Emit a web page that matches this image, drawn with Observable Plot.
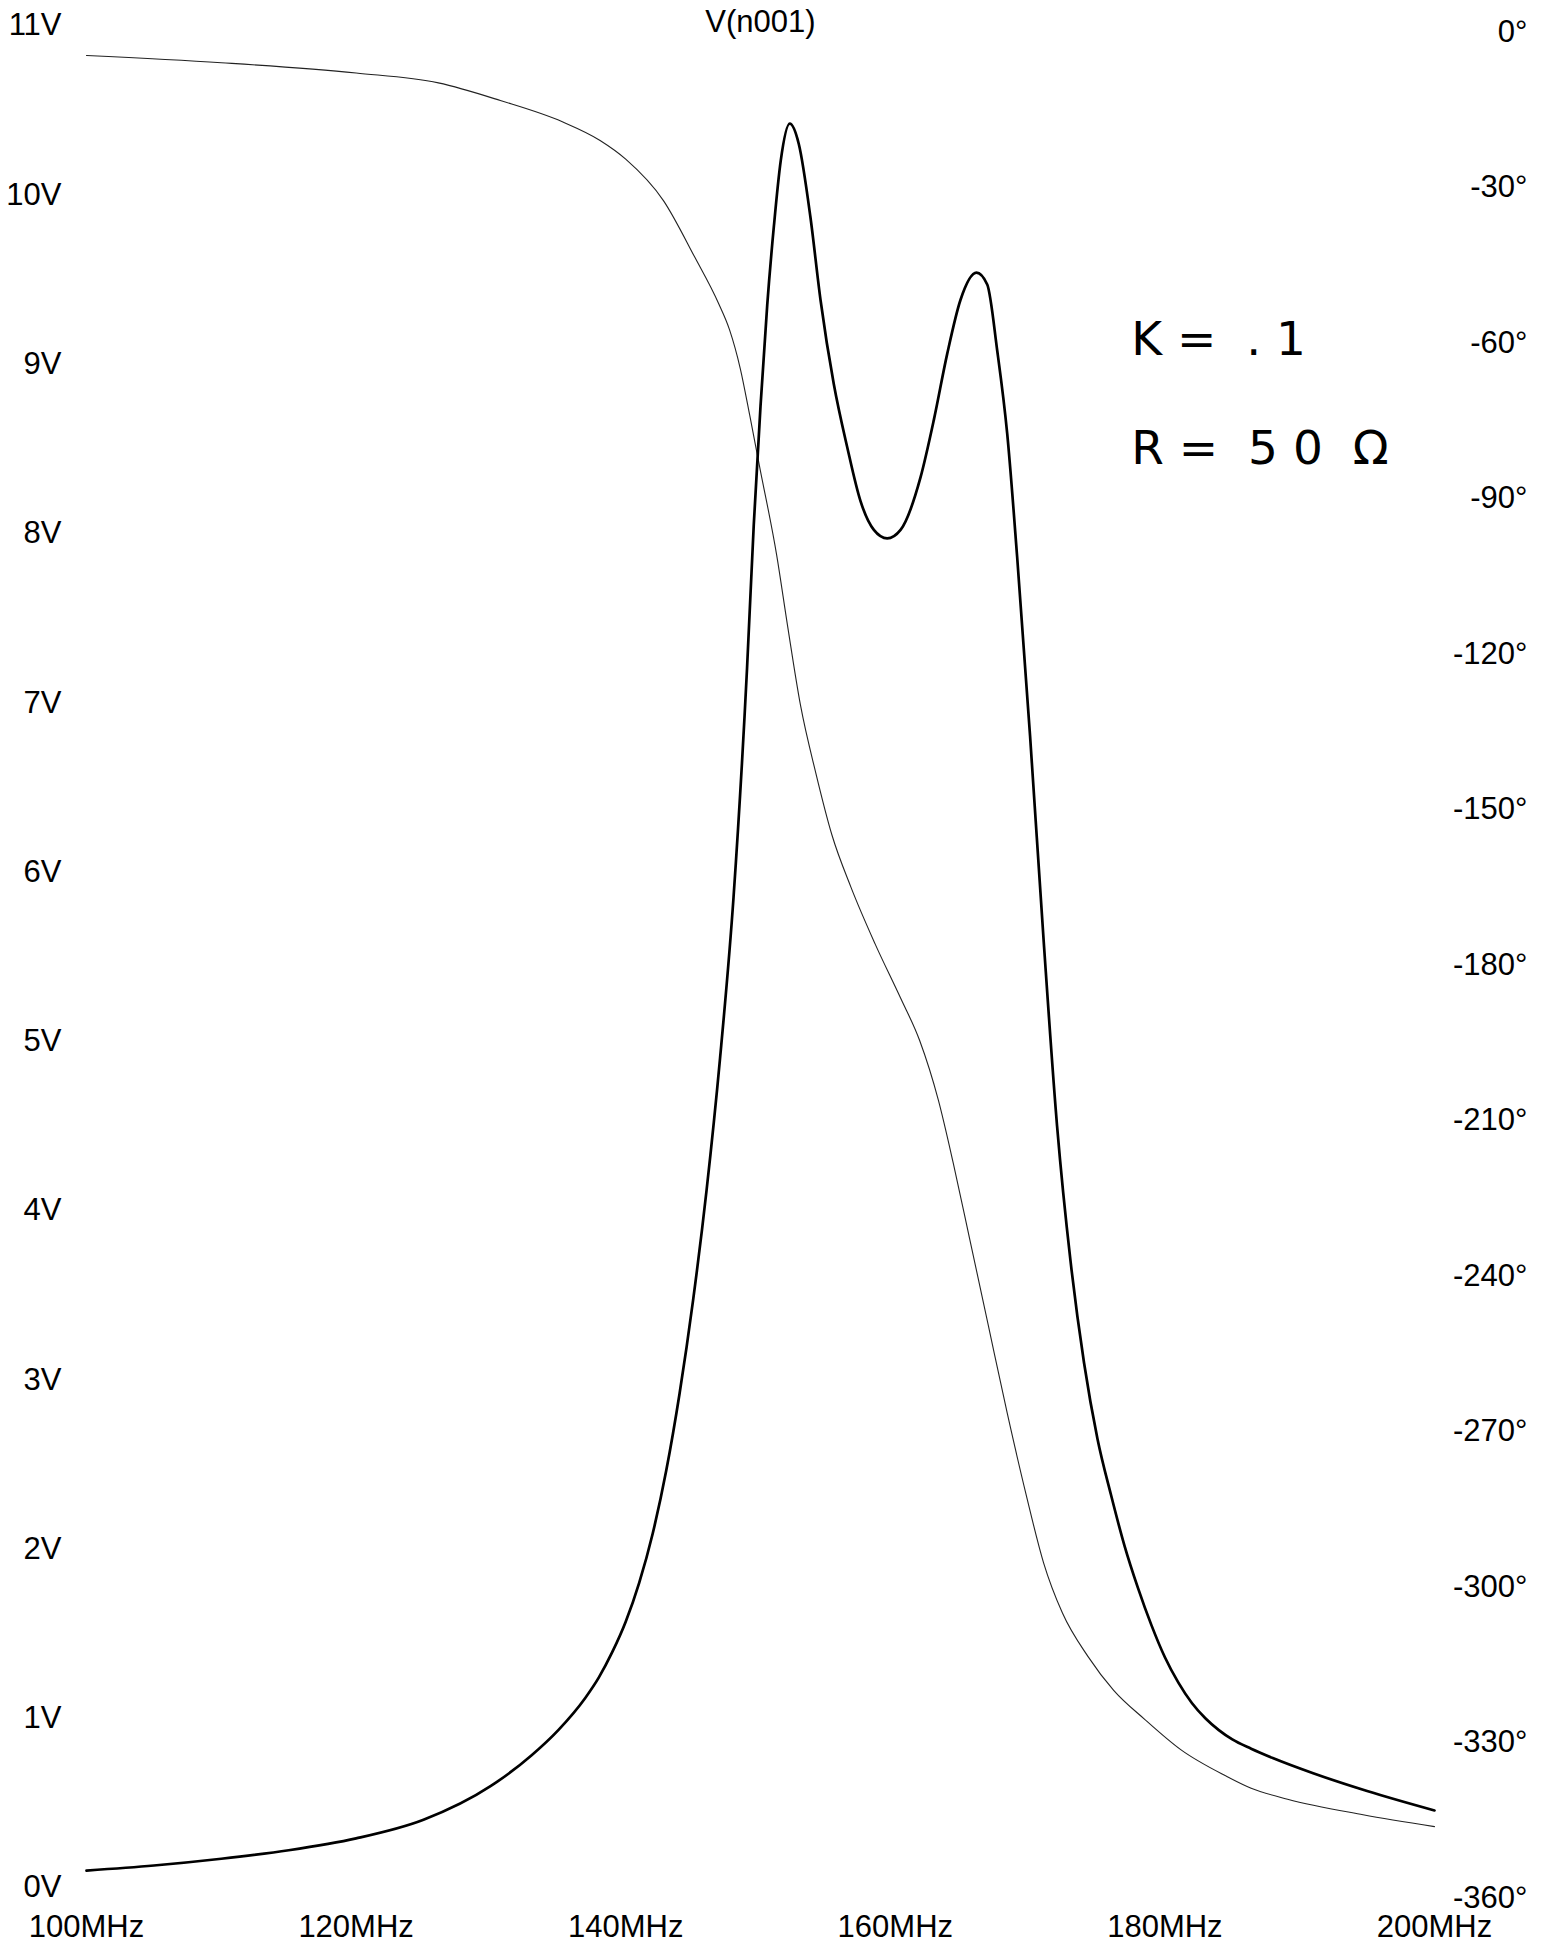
<!DOCTYPE html>
<html>
<head>
<meta charset="utf-8">
<script src="https://cdn.jsdelivr.net/npm/d3@7"></script>
<script src="https://cdn.jsdelivr.net/npm/@observablehq/plot@0.6"></script>
<style>
  html, body { margin: 0; padding: 0; background: #fff; }
  #chart svg { display: block; }
</style>
</head>
<body>
<div id="chart"></div>
<script>
// ---- data ----
const magFreqMHz = [100,105,110,115,120,125,130,133,135,137,138,139,140,141,142,143,144,145,146,147,148,149,149.5,150,150.5,151,151.5,152.17,152.84,153.7,154.45,155.44,156.43,157.42,158.41,159.40,160.39,161.87,162.86,163.85,164.84,166.02,166.82,167.56,168.3,169.04,170,171,172,173,174,175,176,177,178,179,180,181,182,183,184,185,186.4,188,191,195,200];
const magVolts = [0.10,0.13,0.17,0.22,0.29,0.40,0.60,0.78,0.93,1.12,1.24,1.39,1.57,1.80,2.09,2.46,2.92,3.47,4.12,4.90,5.85,7.2,8.05,8.75,9.35,9.82,10.2,10.42,10.30,9.87,9.38,8.88,8.51,8.19,8.02,7.97,8.02,8.33,8.67,9.06,9.38,9.54,9.47,9.08,8.59,7.86,6.8,5.6,4.5,3.7,3.1,2.65,2.32,2.02,1.77,1.55,1.36,1.21,1.09,1.00,0.93,0.875,0.82,0.765,0.675,0.57,0.455];

const phaseFreqMHz = [100,110,120,126.1,130.7,135.3,138.1,140,142.8,145.1,146.9,147.7,148.5,149.2,149.9,151.2,152.0,152.97,154.1,155.3,156.7,158.5,160.4,161.8,163.2,164.3,165.5,166.9,168.3,169.7,171.0,172.4,174.3,176.2,178.5,181.2,184.5,186.4,189.1,194.7,200];
const phaseDeg = [-4.6,-6.0,-8.0,-9.9,-13.3,-17.4,-21.0,-24.6,-32.6,-43.4,-52.5,-57.5,-65,-74,-83.5,-101,-114.5,-130,-143,-155,-165,-176,-186.5,-194.6,-206.2,-218.3,-232.7,-249.6,-266.5,-282.2,-295.4,-305.1,-313.5,-320.0,-325.6,-331.5,-336.5,-338.9,-341.0,-344.0,-346.3];

const voltTicks = [0,1,2,3,4,5,6,7,8,9,10,11];
const degTicks = [0,-30,-60,-90,-120,-150,-180,-210,-240,-270,-300,-330,-360];
const freqTicks = [100,120,140,160,180,200];

const titleText = ["V(n001)"];
const noteLines = ["K =  . 1", "R =  5 0  Ω"];
const noteFreq = [177.5, 177.5];
const noteVolts = [9.14, 8.50];

// right (phase) axis mapped onto the volts scale: 0° ↔ top, -360° ↔ bottom
const degToV = p => 10.964 + 0.030622 * p;
const vToDeg = v => Math.round((v - 10.964) / 0.030622 / 30) * 30;

const mag = magFreqMHz.map((f, i) => ({f, v: magVolts[i]}));
const phase = phaseFreqMHz.map((f, i) => ({f, p: phaseDeg[i]}));
const notes = noteLines.map((t, i) => ({t, f: noteFreq[i], v: noteVolts[i]}));

const chart = Plot.plot({
  width: 1546,
  height: 1960,
  marginLeft: 86,
  marginRight: 112,
  marginTop: 25,
  marginBottom: 73,
  style: {fontFamily: "'Liberation Sans', Arial, sans-serif", fontSize: "31px", background: "#fff", color: "#000"},
  x: {domain: [100, 200]},
  y: {domain: [0, 11]},
  marks: [
    Plot.axisY(voltTicks, {anchor: "left", tickSize: 0, tickPadding: 25, tickFormat: d => d + "V", label: null}),
    Plot.axisY(degTicks.map(degToV), {anchor: "right", tickSize: 0, tickPadding: 93, textAnchor: "end", tickFormat: v => vToDeg(v) + "°", label: null}),
    Plot.axisX(freqTicks, {anchor: "bottom", tickSize: 0, tickPadding: 27, tickFormat: d => d + "MHz", label: null}),
    Plot.line(phase, {x: "f", y: d => degToV(d.p), stroke: "#222", strokeWidth: 1.1, curve: "monotone-x"}),
    Plot.line(mag, {x: "f", y: "v", stroke: "#000", strokeWidth: 2.7, curve: "monotone-x"}),
    Plot.text(titleText, {text: d => d, frameAnchor: "top", lineAnchor: "bottom", dy: 6, fontSize: 31}),
    Plot.text(notes, {x: "f", y: "v", text: "t", textAnchor: "start", fontSize: 47, fontFamily: "'DejaVu Sans', sans-serif", fill: "#000"})
  ]
});
document.getElementById("chart").appendChild(chart);
</script>
</body>
</html>
